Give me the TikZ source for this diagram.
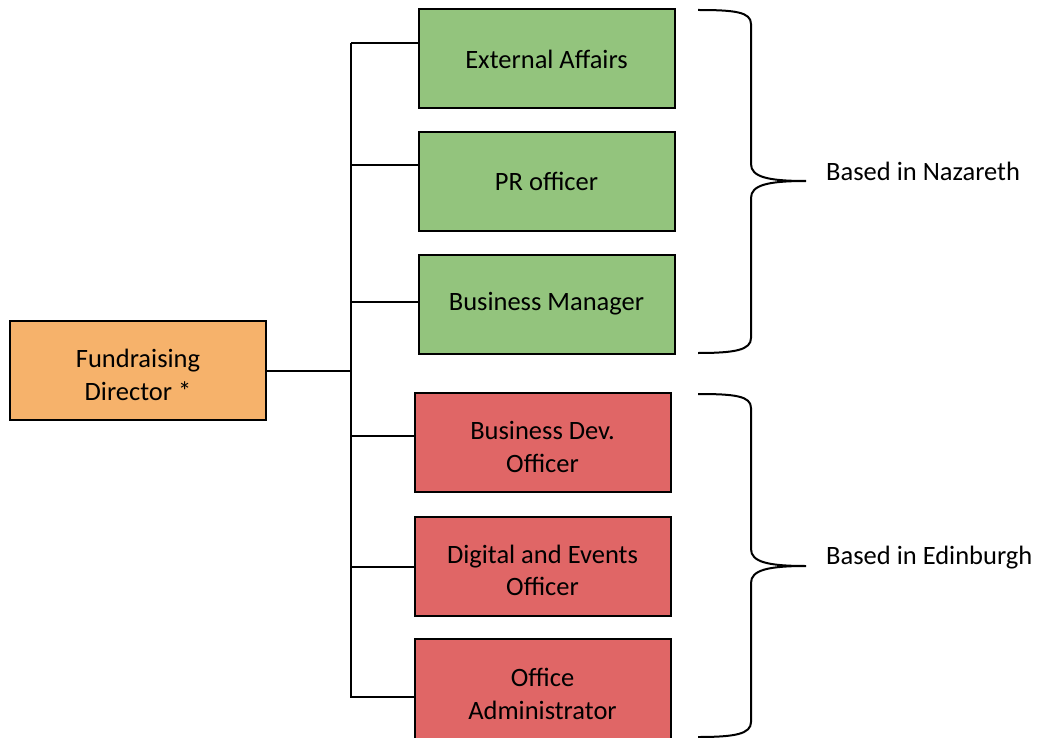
\documentclass[tikz,border=0pt]{standalone}
\usepackage{fontspec}
\setmainfont{Carlito}
\newcommand{\dnstrut}{\rule{0pt}{27pt}}
\begin{document}
\begin{tikzpicture}[x=1pt,y=-1pt,
  box/.style={draw=black,line width=2pt,minimum width=256pt,minimum height=99pt,inner sep=2pt,align=center,font=\fontsize{26.5}{32.5}\selectfont},
  greenbox/.style={box,fill=boxgreen},
  redbox/.style={box,fill=boxred},
  conn/.style={draw=black,line width=2pt},
  lbl/.style={anchor=west,inner sep=0pt,font=\fontsize{26.5}{32}\selectfont}]
\definecolor{boxgreen}{HTML}{93C47D}
\definecolor{boxred}{HTML}{E06666}
\definecolor{boxorange}{HTML}{F6B26B}
\useasboundingbox (0,0) rectangle (1041,738);
\node[box,fill=boxorange,minimum width=256pt] (fd) at (138,370.5) {\dnstrut Fundraising\\Director *};
\node[greenbox] (ea) at (546.5,59) {External Affairs};
\node[greenbox] (pr) at (546.5,181.5) {PR officer};
\node[greenbox] (bm) at (546.5,304) {Business Manager};
\node[redbox] (bd) at (542.5,442.5) {\dnstrut Business Dev.\\Officer};
\node[redbox] (de) at (542.5,566) {\dnstrut Digital and Events\\Officer};
\node[redbox,minimum height=110pt] (oa) at (542.5,694) {\rule{0pt}{18pt}Office\\Administrator};
\coordinate (ttop) at (351,43);
\coordinate (tbot) at (351,698);
\coordinate (t1) at (351,43);
\coordinate (t2) at (351,165);
\coordinate (t3) at (351,302);
\coordinate (t0) at (351,371);
\coordinate (t4) at (351,436);
\coordinate (t5) at (351,567);
\coordinate (t6) at (351,697);
\draw[conn] (ttop) -- (tbot);
\draw[conn] (t1) -- (t1 -| ea.west);
\draw[conn] (t2) -- (t2 -| pr.west);
\draw[conn] (t3) -- (t3 -| bm.west);
\draw[conn] (t0) -- (t0 -| fd.east);
\draw[conn] (t4) -- (t4 -| bd.west);
\draw[conn] (t5) -- (t5 -| de.west);
\draw[conn] (t6) -- (t6 -| oa.west);
% braces
\coordinate (n1) at (698,10);
\coordinate (n2) at (806,181);
\coordinate (n3) at (698,353);
\coordinate (e1) at (698,394);
\coordinate (e2) at (806,566);
\coordinate (e3) at (698,737);
\draw[conn] (n1) .. controls (735,10) and (751,12) .. (751,24) -- (751,164)
  .. controls (751,177) and (768,181) .. (n2)
  .. controls (768,181) and (751,185) .. (751,198) -- (751,338)
  .. controls (751,350) and (735,353) .. (n3);
\draw[conn] (e1) .. controls (735,394) and (751,396) .. (751,408) -- (751,549)
  .. controls (751,562) and (768,566) .. (e2)
  .. controls (768,566) and (751,570) .. (751,583) -- (751,722)
  .. controls (751,734) and (735,737) .. (e3);
\node[lbl] (naz) at (826,171) {Based in Nazareth};
\node[lbl] (edi) at (826,558) {Based in Edinburgh};
\end{tikzpicture}
\end{document}
